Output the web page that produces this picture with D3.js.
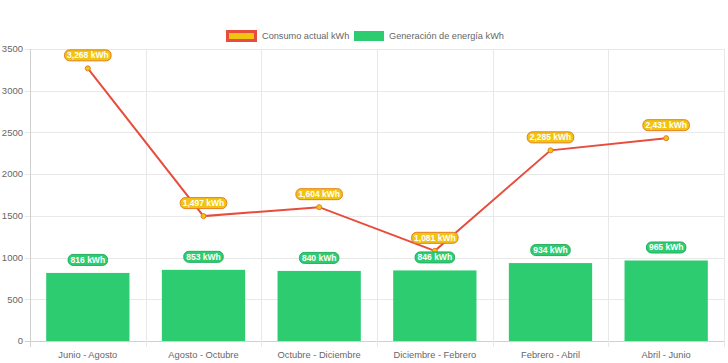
<!DOCTYPE html>
<meta charset="utf-8">
<script src="https://d3js.org/d3.v7.min.js"></script>
<style>
  body { margin: 0; background: #fff; }
  text { font-family: "Liberation Sans", Arial, sans-serif; }
</style>
<div id="chart"></div>
<script>
  // data
  var periods = ["Junio - Agosto", "Agosto - Octubre", "Octubre - Diciembre", "Diciembre - Febrero", "Febrero - Abril", "Abril - Junio"];
  var consumo = [3268, 1497, 1604, 1081, 2285, 2431];
  var generacion = [816, 853, 840, 846, 934, 965];
  var yTicks = [0, 500, 1000, 1500, 2000, 2500, 3000, 3500];
  var legendNames = ["Consumo actual kWh", "Generación de energía kWh"];

  var width = 728, height = 363;
  var margin = {top: 49, right: 4, bottom: 22, left: 30};

  var svg = d3.select("#chart").append("svg")
    .attr("width", width)
    .attr("height", height);

  var x = d3.scaleBand()
    .domain(periods)
    .range([margin.left, width - margin.right]);

  var y = d3.scaleLinear()
    .domain([0, 3500])
    .range([height - margin.bottom, margin.top]);

  var fmt = d3.format(",");

  // grid lines
  svg.append("g").selectAll("line.h")
    .data(yTicks).enter().append("line")
    .attr("x1", margin.left - 5).attr("x2", width - margin.right)
    .attr("y1", d => Math.round(y(d)) + 0.5).attr("y2", d => Math.round(y(d)) + 0.5)
    .attr("stroke", d => d === 0 ? "#d0d0d0" : "#e8e8e8");

  var vlines = periods.map(p => x(p)).concat([x.range()[1]]);
  svg.append("g").selectAll("line.v")
    .data(vlines).enter().append("line")
    .attr("x1", d => Math.round(d) + 0.5).attr("x2", d => Math.round(d) + 0.5)
    .attr("y1", margin.top).attr("y2", height - margin.bottom + 6)
    .attr("stroke", (d, i) => i === 0 ? "#d0d0d0" : "#e8e8e8");

  // y tick labels
  svg.append("g").selectAll("text")
    .data(yTicks).enter().append("text")
    .attr("x", margin.left - 7)
    .attr("y", d => y(d))
    .attr("dy", "0.35em")
    .attr("text-anchor", "end")
    .attr("font-size", 9.5)
    .attr("fill", "#666")
    .text(d => d);

  // x tick labels
  svg.append("g").selectAll("text")
    .data(periods).enter().append("text")
    .attr("x", d => x(d) + x.bandwidth() / 2)
    .attr("y", height - margin.bottom + 17)
    .attr("text-anchor", "middle")
    .attr("font-size", 9.3)
    .attr("fill", "#666")
    .text(d => d);

  // bars
  var barW = x.bandwidth() * 0.72;
  svg.append("g").selectAll("rect")
    .data(generacion).enter().append("rect")
    .attr("x", (d, i) => x(periods[i]) + (x.bandwidth() - barW) / 2)
    .attr("y", d => y(d))
    .attr("width", barW)
    .attr("height", d => y(0) - y(d))
    .attr("fill", "#2ecc71");

  // line
  var cx = (d, i) => x(periods[i]) + x.bandwidth() / 2;
  var line = d3.line().x(cx).y(d => y(d));
  svg.append("path")
    .datum(consumo)
    .attr("d", line)
    .attr("fill", "none")
    .attr("stroke", "#e74c3c")
    .attr("stroke-width", 2);

  svg.append("g").selectAll("circle")
    .data(consumo).enter().append("circle")
    .attr("cx", cx)
    .attr("cy", d => y(d))
    .attr("r", 2.5)
    .attr("fill", "#f1c40f")
    .attr("stroke", "#e67e22")
    .attr("stroke-width", 1);

  // data labels
  function addLabels(values, bg, border) {
    var g = svg.append("g").selectAll("g")
      .data(values).enter().append("g")
      .attr("transform", (d, i) => "translate(" + cx(d, i) + "," + (y(d) - 13) + ")");
    g.append("text")
      .attr("text-anchor", "middle")
      .attr("dy", "0.35em")
      .attr("font-size", 8.5)
      .attr("font-weight", "bold")
      .attr("fill", "#fff")
      .text(d => fmt(d) + " kWh");
    g.each(function() {
      var grp = d3.select(this);
      var w = grp.select("text").node().getComputedTextLength() + 5;
      grp.insert("rect", "text")
        .attr("x", -w / 2).attr("y", -5.5)
        .attr("width", w).attr("height", 11)
        .attr("rx", 5).attr("ry", 5)
        .attr("fill", bg)
        .attr("stroke", border)
        .attr("stroke-width", 1);
    });
  }
  addLabels(generacion, "#2ecc71", "#27ae60");
  addLabels(consumo, "#f1c40f", "#e67e22");

  // legend
  var legend = svg.append("g");
  legend.append("rect")
    .attr("x", 227.5).attr("y", 31.5).attr("width", 28).attr("height", 9)
    .attr("fill", "#f1c40f").attr("stroke", "#e74c3c").attr("stroke-width", 3);
  legend.append("text")
    .attr("x", 262).attr("y", 36).attr("dy", "0.35em")
    .attr("font-size", 9.2).attr("fill", "#666")
    .text(legendNames[0]);
  legend.append("rect")
    .attr("x", 354).attr("y", 31).attr("width", 30).attr("height", 10)
    .attr("fill", "#2ecc71");
  legend.append("text")
    .attr("x", 389).attr("y", 36).attr("dy", "0.35em")
    .attr("font-size", 9.2).attr("fill", "#666")
    .text(legendNames[1]);
</script>
